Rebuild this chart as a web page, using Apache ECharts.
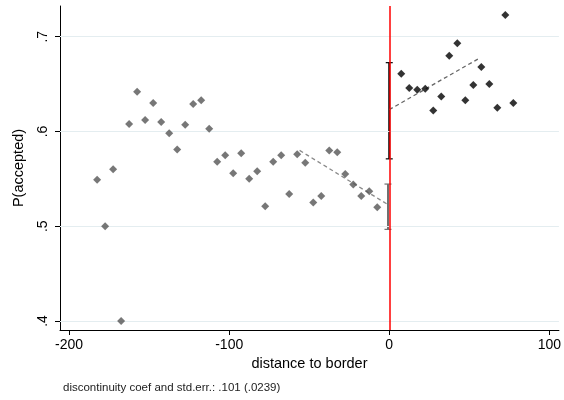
<!DOCTYPE html>
<html>
<head>
<meta charset="utf-8">
<script src="https://cdn.jsdelivr.net/npm/echarts@6/dist/echarts.min.js"></script>
<style>
html,body{margin:0;padding:0;background:#fff;}
#chart{width:564px;height:400px;}
</style>
</head>
<body>
<div id="chart"></div>
<script>
// Binned means left of border
const leftX = [-182.5,-177.5,-172.5,-167.5,-162.5,-157.5,-152.5,-147.5,-142.5,-137.5,-132.5,-127.5,-122.5,-117.5,-112.5,-107.5,-102.5,-97.5,-92.5,-87.5,-82.5,-77.5,-72.5,-67.5,-62.5,-57.5,-52.5,-47.5,-42.5,-37.5,-32.5,-27.5,-22.5,-17.5,-12.5,-7.5];
const leftY = [0.549,0.500,0.560,0.400,0.608,0.642,0.612,0.630,0.610,0.598,0.581,0.607,0.629,0.633,0.603,0.568,0.575,0.556,0.577,0.550,0.558,0.521,0.568,0.575,0.534,0.576,0.567,0.525,0.532,0.580,0.578,0.555,0.544,0.532,0.537,0.520];
// Binned means right of border
const rightX = [7.5,12.5,17.5,22.5,27.5,32.5,37.5,42.5,47.5,52.5,57.5,62.5,67.5,72.5,77.5];
const rightY = [0.661,0.646,0.644,0.645,0.622,0.637,0.680,0.693,0.633,0.649,0.668,0.650,0.625,0.723,0.630];
// Local linear fits
const leftFitX = [-56, 0];
const leftFitY = [0.580, 0.522];
const rightFitX = [0, 56];
const rightFitY = [0.623, 0.677];
// Confidence intervals at the border: [x, low, high]
const leftCI = [-0.8, 0.4967, 0.5445];
const rightCI = [0, 0.5711, 0.6726];
// Ticks
const xTicks = [-200, -100, 0, 100];
const yTicks = [0.4, 0.5, 0.6, 0.7];
const footnote = 'discontinuity coef and std.err.: .101 (.0239)';

const FONT = '"Liberation Sans", Arial, Helvetica, sans-serif';
const chart = echarts.init(document.getElementById('chart'), null, {renderer: 'canvas'});

function ciSeries(ci, color, width) {
  return {
    type: 'custom',
    data: [ci],
    z: 4,
    renderItem: function (params, api) {
      const x = api.value(0);
      const lo = api.coord([x, api.value(1)]);
      const hi = api.coord([x, api.value(2)]);
      const cap = 3.5;
      const style = {stroke: color, lineWidth: width};
      return {
        type: 'group',
        children: [
          {type: 'line', shape: {x1: lo[0], y1: lo[1], x2: hi[0], y2: hi[1]}, style: style},
          {type: 'line', shape: {x1: lo[0] - cap, y1: lo[1], x2: lo[0] + cap, y2: lo[1]}, style: {stroke: color, lineWidth: 1.2}},
          {type: 'line', shape: {x1: hi[0] - cap, y1: hi[1], x2: hi[0] + cap, y2: hi[1]}, style: {stroke: color, lineWidth: 1.2}}
        ]
      };
    }
  };
}

const option = {
  backgroundColor: '#fff',
  animation: false,
  textStyle: {fontFamily: FONT},
  grid: {left: 60, right: 3, top: 6, bottom: 70, containLabel: false},
  xAxis: {
    type: 'value',
    min: -205.7,
    max: 106,
    name: 'distance to border',
    nameLocation: 'middle',
    nameGap: 24,
    nameTextStyle: {fontSize: 14.5, color: '#000', fontFamily: FONT},
    axisLine: {show: true, onZero: false, lineStyle: {color: '#000', width: 1}},
    axisTick: {show: true, length: 5, customValues: xTicks, lineStyle: {color: '#000'}},
    axisLabel: {customValues: xTicks, fontSize: 14, color: '#000', margin: 8, fontFamily: FONT},
    splitLine: {show: false}
  },
  yAxis: {
    type: 'value',
    min: 0.3905,
    max: 0.7324,
    name: 'P(accepted)',
    nameLocation: 'middle',
    nameRotate: 90,
    nameGap: 34,
    nameTextStyle: {fontSize: 14.5, color: '#000', fontFamily: FONT},
    axisLine: {show: true, onZero: false, lineStyle: {color: '#000', width: 1}},
    axisTick: {show: true, length: 5, customValues: yTicks, lineStyle: {color: '#000'}},
    axisLabel: {
      customValues: yTicks, fontSize: 14, color: '#000', margin: 10, rotate: 90, fontFamily: FONT,
      formatter: function (v) { return Number(v).toFixed(1).replace(/^0/, ''); }
    },
    splitLine: {show: false}
  },
  graphic: [{
    type: 'text', left: 63, top: 382,
    style: {text: footnote, fontSize: 11.5, fill: '#222', fontFamily: FONT}
  }],
  series: [
    {
      type: 'line', data: [], z: 1,
      markLine: {
        silent: true, symbol: 'none', label: {show: false},
        lineStyle: {color: '#e4edf0', width: 1, type: 'solid'},
        data: yTicks.map(function (v) { return {yAxis: v}; })
      }
    },
    {
      type: 'line', data: [], z: 3,
      markLine: {
        silent: true, symbol: 'none', label: {show: false},
        lineStyle: {color: '#ff0000', width: 1.5, type: 'solid'},
        data: [{xAxis: 0}]
      }
    },
    {
      type: 'scatter', symbol: 'diamond', symbolSize: 8, z: 5,
      itemStyle: {color: '#555555'},
      data: leftX.map(function (x, i) { return [x, leftY[i]]; })
    },
    {
      type: 'scatter', symbol: 'diamond', symbolSize: 8, z: 5,
      itemStyle: {color: '#000000'},
      data: rightX.map(function (x, i) { return [x, rightY[i]]; })
    },
    {
      type: 'line', showSymbol: false, symbol: 'none', z: 4,
      lineStyle: {color: '#8a8a8a', width: 1.3, type: [4, 3]},
      data: leftFitX.map(function (x, i) { return [x, leftFitY[i]]; })
    },
    {
      type: 'line', showSymbol: false, symbol: 'none', z: 4,
      lineStyle: {color: '#666666', width: 1.3, type: [4, 3]},
      data: rightFitX.map(function (x, i) { return [x, rightFitY[i]]; })
    },
    ciSeries(leftCI, '#707070', 2),
    ciSeries(rightCI, '#000000', 2)
  ]
};
chart.setOption(option);
</script>
</body>
</html>
